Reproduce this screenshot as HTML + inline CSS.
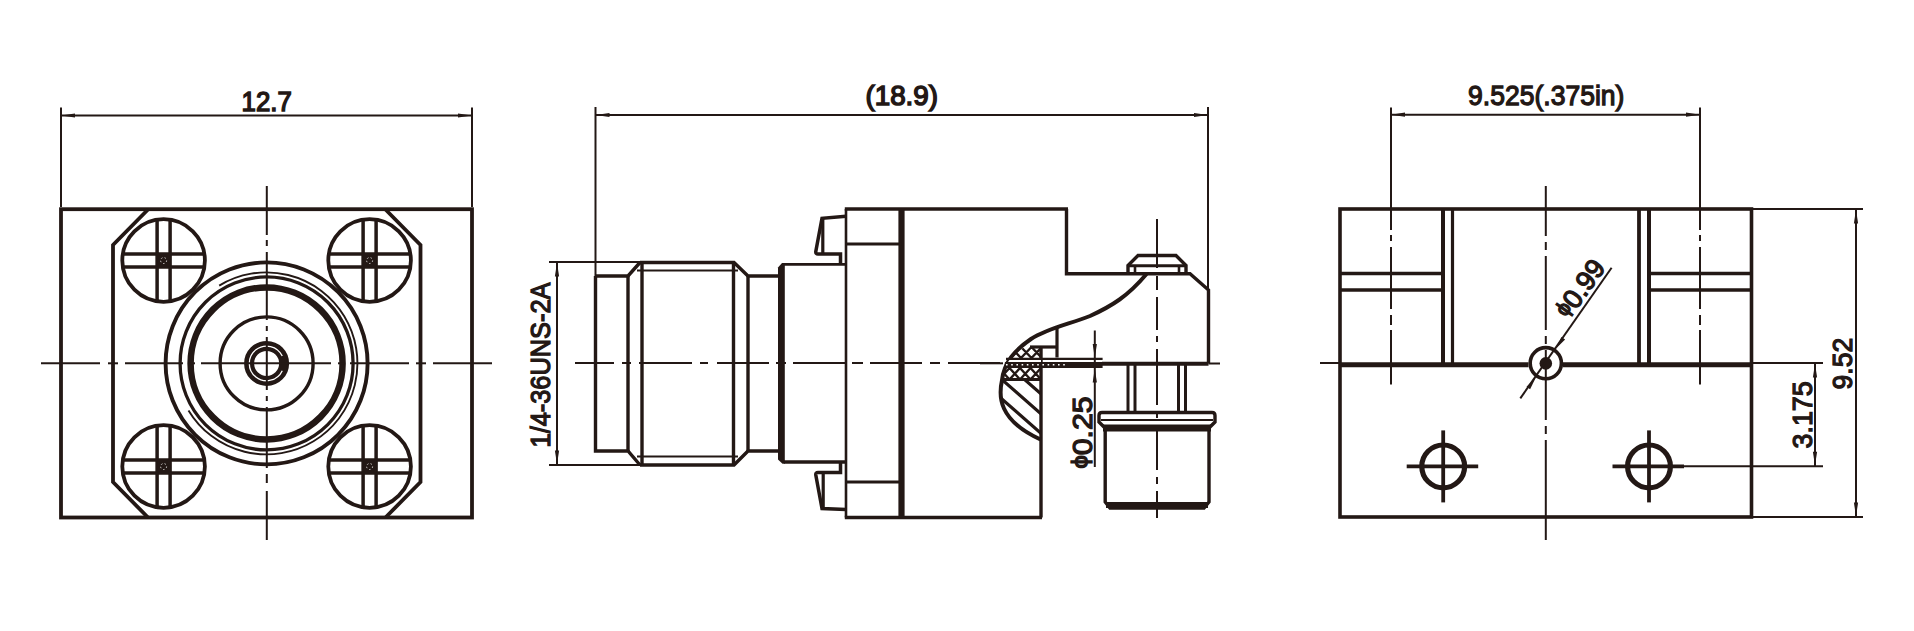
<!DOCTYPE html>
<html><head><meta charset="utf-8"><style>
html,body{margin:0;padding:0;background:#fff;}
body{width:1914px;height:631px;overflow:hidden;}
svg{display:block;}
text{font-family:"Liberation Sans",sans-serif;}
</style></head><body>
<svg width="1914" height="631" viewBox="0 0 1914 631">
<rect width="1914" height="631" fill="#fff"/>
<g fill="none" stroke="#231815" stroke-linecap="butt" stroke-linejoin="miter">
<rect x="61" y="209.2" width="411" height="308.3" stroke-width="3.8"/>
<path d="M148,209.5 L113,245 L113,482 L148,517.5 M385.5,209.5 L420.5,245 L420.5,482 L385.5,517.5" stroke-width="3.8" />
<circle cx="163.6" cy="260.5" r="41.3" stroke-width="3.8" />
<line x1="157.1" y1="219.7147085335902" x2="157.1" y2="301.2852914664098" stroke-width="3.5" />
<line x1="122.81470853359019" y1="254.0" x2="204.3852914664098" y2="254.0" stroke-width="3.5" />
<line x1="170.1" y1="219.7147085335902" x2="170.1" y2="301.2852914664098" stroke-width="3.5" />
<line x1="122.81470853359019" y1="267.0" x2="204.3852914664098" y2="267.0" stroke-width="3.5" />
<rect x="157.1" y="254.0" width="13" height="13" fill="#231815" stroke="none"/>
<circle cx="163.6" cy="260.5" r="3" stroke="#fff" stroke-width="0.8" stroke-dasharray="1.5,2.2"/>
<circle cx="369.6" cy="260.5" r="41.3" stroke-width="3.8" />
<line x1="363.1" y1="219.7147085335902" x2="363.1" y2="301.2852914664098" stroke-width="3.5" />
<line x1="328.81470853359025" y1="254.0" x2="410.3852914664098" y2="254.0" stroke-width="3.5" />
<line x1="376.1" y1="219.7147085335902" x2="376.1" y2="301.2852914664098" stroke-width="3.5" />
<line x1="328.81470853359025" y1="267.0" x2="410.3852914664098" y2="267.0" stroke-width="3.5" />
<rect x="363.1" y="254.0" width="13" height="13" fill="#231815" stroke="none"/>
<circle cx="369.6" cy="260.5" r="3" stroke="#fff" stroke-width="0.8" stroke-dasharray="1.5,2.2"/>
<circle cx="163.6" cy="466.5" r="41.3" stroke-width="3.8" />
<line x1="157.1" y1="425.7147085335902" x2="157.1" y2="507.2852914664098" stroke-width="3.5" />
<line x1="122.81470853359019" y1="460.0" x2="204.3852914664098" y2="460.0" stroke-width="3.5" />
<line x1="170.1" y1="425.7147085335902" x2="170.1" y2="507.2852914664098" stroke-width="3.5" />
<line x1="122.81470853359019" y1="473.0" x2="204.3852914664098" y2="473.0" stroke-width="3.5" />
<rect x="157.1" y="460.0" width="13" height="13" fill="#231815" stroke="none"/>
<circle cx="163.6" cy="466.5" r="3" stroke="#fff" stroke-width="0.8" stroke-dasharray="1.5,2.2"/>
<circle cx="369.6" cy="466.5" r="41.3" stroke-width="3.8" />
<line x1="363.1" y1="425.7147085335902" x2="363.1" y2="507.2852914664098" stroke-width="3.5" />
<line x1="328.81470853359025" y1="460.0" x2="410.3852914664098" y2="460.0" stroke-width="3.5" />
<line x1="376.1" y1="425.7147085335902" x2="376.1" y2="507.2852914664098" stroke-width="3.5" />
<line x1="328.81470853359025" y1="473.0" x2="410.3852914664098" y2="473.0" stroke-width="3.5" />
<rect x="363.1" y="460.0" width="13" height="13" fill="#231815" stroke="none"/>
<circle cx="369.6" cy="466.5" r="3" stroke="#fff" stroke-width="0.8" stroke-dasharray="1.5,2.2"/>
<circle cx="266.6" cy="363.4" r="101" stroke-width="3.9" />
<path d="M188.5,410.4 A91,91 0 1 0 219.2,285.6" stroke-width="1.9" />
<circle cx="266.6" cy="363.4" r="86.5" stroke-width="3.3" />
<circle cx="266.6" cy="363.4" r="76" stroke-width="6.5" />
<circle cx="266.6" cy="363.4" r="46.5" stroke-width="3.4" />
<circle cx="266.6" cy="363.4" r="17.5" stroke-width="10" />
<path d="M282.28,370.71 A17.3,17.3 0 1 1 282.28,356.09" stroke-width="1.3" stroke="#fff"/>
<line x1="41" y1="363.3" x2="100" y2="363.3" stroke-width="2.0" />
<line x1="108" y1="363.3" x2="118" y2="363.3" stroke-width="2.0" />
<line x1="125" y1="363.3" x2="183" y2="363.3" stroke-width="2.0" />
<line x1="190" y1="363.3" x2="195" y2="363.3" stroke-width="2.0" />
<line x1="201" y1="363.3" x2="331" y2="363.3" stroke-width="2.0" />
<line x1="338" y1="363.3" x2="344" y2="363.3" stroke-width="2.0" />
<line x1="350" y1="363.3" x2="409" y2="363.3" stroke-width="2.0" />
<line x1="416" y1="363.3" x2="426" y2="363.3" stroke-width="2.0" />
<line x1="433" y1="363.3" x2="492" y2="363.3" stroke-width="2.0" />
<line x1="266.8" y1="186" x2="266.8" y2="235" stroke-width="2.0" />
<line x1="266.8" y1="240" x2="266.8" y2="246" stroke-width="2.0" />
<line x1="266.8" y1="252" x2="266.8" y2="320" stroke-width="2.0" />
<line x1="266.8" y1="326" x2="266.8" y2="331" stroke-width="2.0" />
<line x1="266.8" y1="337" x2="266.8" y2="390" stroke-width="2.0" />
<line x1="266.8" y1="396" x2="266.8" y2="401" stroke-width="2.0" />
<line x1="266.8" y1="407" x2="266.8" y2="468" stroke-width="2.0" />
<line x1="266.8" y1="474" x2="266.8" y2="483" stroke-width="2.0" />
<line x1="266.8" y1="491" x2="266.8" y2="540" stroke-width="2.0" />
<line x1="61" y1="107.5" x2="61" y2="207" stroke-width="2.0" />
<line x1="472" y1="107.5" x2="472" y2="207" stroke-width="2.0" />
<line x1="61" y1="115.5" x2="472" y2="115.5" stroke-width="2.0" />
<path d="M61.0,115.5 L75.0,113.4 L75.0,117.6Z" fill="#231815" stroke="none"/>
<path d="M472.0,115.5 L458.0,117.6 L458.0,113.4Z" fill="#231815" stroke="none"/>
<line x1="595.5" y1="107" x2="595.5" y2="276" stroke-width="2.0" />
<line x1="1208" y1="107" x2="1208" y2="290" stroke-width="2.0" />
<line x1="595.5" y1="115" x2="1208" y2="115" stroke-width="2.0" />
<path d="M595.5,115.0 L609.5,112.9 L609.5,117.1Z" fill="#231815" stroke="none"/>
<path d="M1208.0,115.0 L1194.0,117.1 L1194.0,112.9Z" fill="#231815" stroke="none"/>
<path d="M640,262.5 H734 L748,276 H781 M640,465 H734 L748,451 H781" stroke-width="3.4" />
<path d="M595.5,276 H628 L640,262.5 M595.5,276 V451 H628 L640,465" stroke-width="3.4" />
<line x1="628" y1="276" x2="628" y2="451" stroke-width="3.4" />
<line x1="642" y1="262.5" x2="642" y2="465" stroke-width="3.4" />
<line x1="733.5" y1="262.5" x2="733.5" y2="465" stroke-width="3.4" />
<line x1="748" y1="276" x2="748" y2="451" stroke-width="3.4" />
<line x1="637" y1="270.5" x2="738" y2="270.5" stroke-width="2.2" />
<line x1="637" y1="456.5" x2="738" y2="456.5" stroke-width="2.2" />
<line x1="549" y1="262" x2="640" y2="262" stroke-width="2.0" />
<line x1="549" y1="465" x2="640" y2="465" stroke-width="2.0" />
<line x1="557" y1="262" x2="557" y2="465" stroke-width="2.0" />
<path d="M557.0,262.5 L559.1,276.5 L554.9,276.5Z" fill="#231815" stroke="none"/>
<path d="M557.0,464.5 L554.9,450.5 L559.1,450.5Z" fill="#231815" stroke="none"/>
<path d="M778,267.5 L782,263 H784.8 V463.8 H782.5 L778,459.5Z" fill="#231815" stroke="none"/>
<line x1="784" y1="264.4" x2="846" y2="264.4" stroke-width="2.8" />
<line x1="784" y1="462" x2="846" y2="462" stroke-width="3.5" />
<line x1="846" y1="209" x2="846" y2="517.5" stroke-width="2.6" />
<line x1="844.8" y1="209" x2="1068" y2="209" stroke-width="3.4" />
<line x1="844.8" y1="517.5" x2="1042" y2="517.5" stroke-width="3.4" />
<line x1="901.5" y1="209" x2="901.5" y2="517.5" stroke-width="6.2" />
<line x1="846" y1="244" x2="901.5" y2="244" stroke-width="3.2" />
<line x1="846" y1="482" x2="901.5" y2="482" stroke-width="3.2" />
<path d="M846,216.3 L822,218.3 L815.8,251.5 Q815.5,254 818,254 L840.5,254 V264" stroke-width="3.5" />
<line x1="822.8" y1="218.5" x2="822.8" y2="254" stroke-width="3.2" />
<path d="M846,509.5 L822,508.5 L815.8,475 Q815.5,472.5 818,472.5 L840.5,472.5 V462" stroke-width="3.5" />
<line x1="823.2" y1="472.5" x2="823.2" y2="508.5" stroke-width="3.2" />
<path d="M1066.5,209 V273.7 H1190 L1208.5,290 V363.5" stroke-width="3.4" />
<line x1="1208.5" y1="363.5" x2="1220" y2="363.5" stroke-width="2.0" />
<line x1="1041" y1="347" x2="1041" y2="517.5" stroke-width="3.4" />
<path d="M1128,274 V265.5 L1138,255.5 H1176 L1186,265.5 V274" stroke-width="3.4" />
<line x1="1128" y1="265.8" x2="1186" y2="265.8" stroke-width="3" />
<line x1="1135" y1="265.8" x2="1135" y2="274" stroke-width="2.6" />
<line x1="1179" y1="265.8" x2="1179" y2="274" stroke-width="2.6" />
<path d="M1146.5,274 C1128,296 1112,306 1090,316 C1070,324 1048,328 1031,339 C1015,350 1004,362 1002,380.3 C998.5,396 998,420 1040.5,439.5" stroke-width="4.0" />
<line x1="1057" y1="327.5" x2="1057" y2="357.5" stroke-width="3.2" />
<line x1="1030" y1="347" x2="1057" y2="347" stroke-width="3.2" />
<line x1="1002" y1="379.5" x2="1041" y2="379.5" stroke-width="3.2" />
<clipPath id="hc"><path d="M1041,345 H1030 C1015,350 1004,362 1002,380.3 L1002,381 H1041Z"/></clipPath>
<g clip-path="url(#hc)"><path d="M968.5,347 L979.0,358 M979.0,347 L968.5,358 M967.5,368 L978.0,379.5 M978.0,368 L967.5,379.5 M979.0,347 L989.5,358 M989.5,347 L979.0,358 M978.0,368 L988.5,379.5 M988.5,368 L978.0,379.5 M989.5,347 L1000.0,358 M1000.0,347 L989.5,358 M988.5,368 L999.0,379.5 M999.0,368 L988.5,379.5 M1000.0,347 L1010.5,358 M1010.5,347 L1000.0,358 M999.0,368 L1009.5,379.5 M1009.5,368 L999.0,379.5 M1010.5,347 L1021.0,358 M1021.0,347 L1010.5,358 M1009.5,368 L1020.0,379.5 M1020.0,368 L1009.5,379.5 M1021.0,347 L1031.5,358 M1031.5,347 L1021.0,358 M1020.0,368 L1030.5,379.5 M1030.5,368 L1020.0,379.5 M1031.5,347 L1042.0,358 M1042.0,347 L1031.5,358 M1030.5,368 L1041.0,379.5 M1041.0,368 L1030.5,379.5 M1042.0,347 L1052.5,358 M1052.5,347 L1042.0,358 M1041.0,368 L1051.5,379.5 M1051.5,368 L1041.0,379.5 M1052.5,347 L1063.0,358 M1063.0,347 L1052.5,358 M1051.5,368 L1062.0,379.5 M1062.0,368 L1051.5,379.5" stroke-width="2.4"/></g>
<g clip-path="url(#hc)"><rect x="1000" y="358" width="41" height="10" fill="#fff" stroke="none"/></g>
<line x1="1006" y1="358.8" x2="1102.6" y2="358.8" stroke-width="2.2" />
<path d="M1005,362 H1102.6 V368 H1004Z" fill="#231815" stroke="none"/>
<line x1="1006" y1="364.8" x2="1068" y2="364.8" stroke-width="1.4" stroke="#fff" stroke-dasharray="1.6,3.6"/>
<line x1="1102" y1="363.8" x2="1208.5" y2="363.8" stroke-width="4.0" />
<clipPath id="hd"><path d="M1041,379.5 H1002 C998.5,396 998,420 1040.5,439.5 L1041,440Z"/></clipPath>
<g clip-path="url(#hd)"><path d="M980,340.3 L1050,401.9 M980,360.3 L1050,421.9 M980,379.8 L1050,441.4" stroke-width="3.2"/></g>
<line x1="980" y1="363.3" x2="1003" y2="363.3" stroke-width="2.0" />
<line x1="1094.8" y1="330.5" x2="1094.8" y2="467" stroke-width="2.0" />
<path d="M1094.8,358.0 L1092.7,344.0 L1096.9,344.0Z" fill="#231815" stroke="none"/>
<path d="M1094.8,368.5 L1096.9,382.5 L1092.7,382.5Z" fill="#231815" stroke="none"/>
<line x1="1128" y1="363.5" x2="1128" y2="413" stroke-width="3" />
<line x1="1135" y1="363.5" x2="1135" y2="413" stroke-width="3" />
<line x1="1178.5" y1="363.5" x2="1178.5" y2="413" stroke-width="3" />
<line x1="1185.5" y1="363.5" x2="1185.5" y2="413" stroke-width="3" />
<path d="M1102,412.5 H1212 Q1215,412.5 1215,415.5 V422 L1209,428 H1105 L1099,422 V415.5 Q1099,412.5 1102,412.5Z" stroke-width="3.4" />
<line x1="1101" y1="420" x2="1213" y2="420" stroke-width="2" />
<rect x="1103" y="424.5" width="108" height="7" fill="#231815" stroke="none"/>
<path d="M1105.2,428 V502 L1110,508 H1204 L1209,502 V428" stroke-width="3.4" />
<rect x="1106" y="502" width="102" height="6" fill="#231815" stroke="none"/>
<line x1="1157" y1="219" x2="1157" y2="268" stroke-width="2.0" />
<line x1="1157" y1="276" x2="1157" y2="290" stroke-width="2.0" />
<line x1="1157" y1="297" x2="1157" y2="330" stroke-width="2.0" />
<line x1="1157" y1="336" x2="1157" y2="342" stroke-width="2.0" />
<line x1="1157" y1="349" x2="1157" y2="405" stroke-width="2.0" />
<line x1="1157" y1="411" x2="1157" y2="418" stroke-width="2.0" />
<line x1="1157" y1="425" x2="1157" y2="470" stroke-width="2.0" />
<line x1="1157" y1="477" x2="1157" y2="484" stroke-width="2.0" />
<line x1="1157" y1="491" x2="1157" y2="518" stroke-width="2.0" />
<line x1="575" y1="363" x2="614" y2="363" stroke-width="2.0" />
<line x1="622" y1="363" x2="631" y2="363" stroke-width="2.0" />
<line x1="639" y1="363" x2="692" y2="363" stroke-width="2.0" />
<line x1="700" y1="363" x2="708" y2="363" stroke-width="2.0" />
<line x1="717" y1="363" x2="769" y2="363" stroke-width="2.0" />
<line x1="776" y1="363" x2="786" y2="363" stroke-width="2.0" />
<line x1="793" y1="363" x2="845" y2="363" stroke-width="2.0" />
<line x1="852" y1="363" x2="863" y2="363" stroke-width="2.0" />
<line x1="870" y1="363" x2="922" y2="363" stroke-width="2.0" />
<line x1="930" y1="363" x2="940" y2="363" stroke-width="2.0" />
<line x1="948" y1="363" x2="1000" y2="363" stroke-width="2.0" />
<rect x="1340" y="209" width="411.5" height="308" stroke-width="3.6"/>
<line x1="1443" y1="209" x2="1443" y2="364" stroke-width="4.0" />
<line x1="1452.5" y1="209" x2="1452.5" y2="364" stroke-width="3.2" />
<line x1="1639" y1="209" x2="1639" y2="364" stroke-width="3.8" />
<line x1="1649" y1="209" x2="1649" y2="364" stroke-width="4.0" />
<line x1="1340" y1="273.5" x2="1443" y2="273.5" stroke-width="3.4" />
<line x1="1649" y1="273.5" x2="1751.5" y2="273.5" stroke-width="3.4" />
<line x1="1340" y1="290" x2="1443" y2="290" stroke-width="3.4" />
<line x1="1649" y1="290" x2="1751.5" y2="290" stroke-width="3.4" />
<line x1="1340" y1="364.8" x2="1528.5" y2="364.8" stroke-width="5.0" />
<line x1="1563" y1="364.8" x2="1751.5" y2="364.8" stroke-width="5.0" />
<line x1="1320" y1="363" x2="1340" y2="363" stroke-width="2.0" />
<line x1="1751.5" y1="363" x2="1823" y2="363" stroke-width="2.0" />
<line x1="1391" y1="107.5" x2="1391" y2="209" stroke-width="2.0" />
<line x1="1391" y1="209" x2="1391" y2="230" stroke-width="2.0" />
<line x1="1391" y1="235" x2="1391" y2="241" stroke-width="2.0" />
<line x1="1391" y1="247" x2="1391" y2="309" stroke-width="2.0" />
<line x1="1391" y1="315" x2="1391" y2="325" stroke-width="2.0" />
<line x1="1391" y1="330" x2="1391" y2="384.4" stroke-width="2.0" />
<line x1="1700" y1="107.5" x2="1700" y2="209" stroke-width="2.0" />
<line x1="1700" y1="209" x2="1700" y2="230" stroke-width="2.0" />
<line x1="1700" y1="235" x2="1700" y2="241" stroke-width="2.0" />
<line x1="1700" y1="247" x2="1700" y2="309" stroke-width="2.0" />
<line x1="1700" y1="315" x2="1700" y2="325" stroke-width="2.0" />
<line x1="1700" y1="330" x2="1700" y2="384.4" stroke-width="2.0" />
<line x1="1545.8" y1="186" x2="1545.8" y2="236" stroke-width="2.0" />
<line x1="1545.8" y1="242" x2="1545.8" y2="250" stroke-width="2.0" />
<line x1="1545.8" y1="256" x2="1545.8" y2="330" stroke-width="2.0" />
<line x1="1545.8" y1="336" x2="1545.8" y2="344" stroke-width="2.0" />
<line x1="1545.8" y1="350" x2="1545.8" y2="420" stroke-width="2.0" />
<line x1="1545.8" y1="426" x2="1545.8" y2="434" stroke-width="2.0" />
<line x1="1545.8" y1="440" x2="1545.8" y2="540" stroke-width="2.0" />
<line x1="1391" y1="114.7" x2="1700" y2="114.7" stroke-width="2.0" />
<path d="M1391.0,114.7 L1405.0,112.6 L1405.0,116.8Z" fill="#231815" stroke="none"/>
<path d="M1700.0,114.7 L1686.0,116.8 L1686.0,112.6Z" fill="#231815" stroke="none"/>
<circle cx="1545.8" cy="363.2" r="15.6" stroke-width="3.6" />
<circle cx="1545.8" cy="363.4" r="6.3" stroke-width="0" fill="#231815"/>
<line x1="1611.6" y1="267.8" x2="1520.3" y2="398.4" stroke-width="2.0" />
<path d="M1555.8,348.8 L1561.5,336.9 L1565.1,339.4Z" fill="#231815" stroke="none"/>
<path d="M1535.8,377.4 L1530.1,389.3 L1526.5,386.8Z" fill="#231815" stroke="none"/>
<circle cx="1443.2" cy="466.4" r="21.4" stroke-width="5.2" />
<line x1="1406.7" y1="466.4" x2="1478.2" y2="466.4" stroke-width="3.8" />
<line x1="1443.2" y1="430.4" x2="1443.2" y2="502.4" stroke-width="3.8" />
<circle cx="1649" cy="466.4" r="21.4" stroke-width="5.2" />
<line x1="1612.5" y1="466.4" x2="1684" y2="466.4" stroke-width="3.8" />
<line x1="1649" y1="430.4" x2="1649" y2="502.4" stroke-width="3.8" />
<line x1="1684" y1="466.2" x2="1823" y2="466.2" stroke-width="2.0" />
<line x1="1751.5" y1="209" x2="1863" y2="209" stroke-width="2.0" />
<line x1="1751.5" y1="517" x2="1863" y2="517" stroke-width="2.0" />
<line x1="1856" y1="209" x2="1856" y2="517" stroke-width="2.0" />
<path d="M1856.0,209.5 L1858.1,223.5 L1853.9,223.5Z" fill="#231815" stroke="none"/>
<path d="M1856.0,516.5 L1853.9,502.5 L1858.1,502.5Z" fill="#231815" stroke="none"/>
<line x1="1815" y1="363" x2="1815" y2="466.2" stroke-width="2.0" />
<path d="M1815.0,363.5 L1817.1,377.5 L1812.9,377.5Z" fill="#231815" stroke="none"/>
<path d="M1815.0,465.7 L1812.9,451.7 L1817.1,451.7Z" fill="#231815" stroke="none"/>
<text transform="translate(266.65,111.45) rotate(0) scale(0.9049,1)" font-size="28.50" font-weight="normal" text-anchor="middle" fill="#231815" stroke="#231815" stroke-width="1.5" >12.7</text>
<text transform="translate(901.75,104.90) rotate(0) scale(0.9755,1)" font-size="28.50" font-weight="normal" text-anchor="middle" fill="#231815" stroke="#231815" stroke-width="1.5" >(18.9)</text>
<text transform="translate(549.50,365.00) rotate(-90) scale(0.8897,1)" font-size="28.50" font-weight="normal" text-anchor="middle" fill="#231815" stroke="#231815" stroke-width="1.3" >1/4-36UNS-2A</text>
<text transform="translate(1091.00,432.50) rotate(-90) scale(1.0594,1)" font-size="28.50" font-weight="normal" text-anchor="middle" fill="#231815" stroke="#231815" stroke-width="1.3" ><tspan font-size="0.78em" dy="-0.17em">&#x3d5;</tspan><tspan dy="0.17em">0.25</tspan></text>
<text transform="translate(1546.25,105.45) rotate(0) scale(0.9309,1)" font-size="28.50" font-weight="normal" text-anchor="middle" fill="#231815" stroke="#231815" stroke-width="1.3" >9.525(.375in)</text>
<text transform="translate(1587.00,293.40) rotate(-54.5) scale(1.0000,1)" font-size="27.00" font-weight="normal" text-anchor="middle" fill="#231815" stroke="#231815" stroke-width="1.3" ><tspan font-size="0.78em" dy="-0.17em">&#x3d5;</tspan><tspan dy="0.17em">0.99</tspan></text>
<text transform="translate(1811.95,414.90) rotate(-90) scale(0.9422,1)" font-size="28.50" font-weight="normal" text-anchor="middle" fill="#231815" stroke="#231815" stroke-width="1.3" >3.175</text>
<text transform="translate(1851.65,363.65) rotate(-90) scale(0.9308,1)" font-size="28.50" font-weight="normal" text-anchor="middle" fill="#231815" stroke="#231815" stroke-width="1.3" >9.52</text>
</g>
</svg>
</body></html>
